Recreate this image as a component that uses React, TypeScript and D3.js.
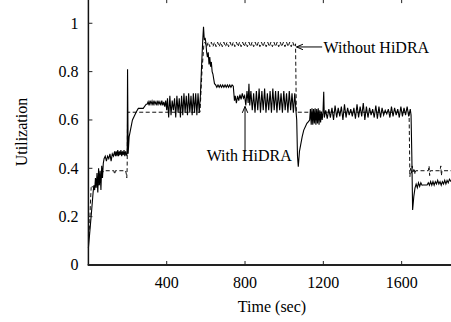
import React, { useEffect, useRef } from 'react';
import * as d3 from 'd3';

// tick values / labels
const xTicks = [400, 800, 1200, 1600];
const yTicks = [0, 0.2, 0.4, 0.6, 0.8, 1];
const yTickLabels = ['0', '0.2', '0.4', '0.6', '0.8', '1'];

// utilization with HiDRA: [time (sec), utilization]
const withHidra: [number, number][] = [
  [0, 0.07], [8, 0.145], [16, 0.22], [24, 0.3], [28, 0.33], [32, 0.31], [36, 0.36], [40, 0.32],
  [44, 0.38], [48, 0.3], [52, 0.4], [56, 0.33], [60, 0.39], [64, 0.31], [68, 0.41], [72, 0.36],
  [76, 0.42], [80, 0.44], [86, 0.45], [92, 0.43], [98, 0.45], [104, 0.44], [110, 0.46], [116, 0.43],
  [122, 0.46], [128, 0.45], [134, 0.47], [138, 0.45], [142, 0.47], [146, 0.45], [150, 0.475],
  [154, 0.45], [158, 0.47], [162, 0.455], [166, 0.475], [170, 0.45], [174, 0.47], [178, 0.455],
  [182, 0.475], [186, 0.45], [190, 0.47], [194, 0.455], [198, 0.46], [200, 0.81], [203, 0.46],
  [208, 0.53], [225, 0.6], [245, 0.634], [255, 0.648], [280, 0.648], [295, 0.665], [300, 0.665],
  [305, 0.675], [310, 0.66], [315, 0.68], [320, 0.665], [325, 0.678], [330, 0.66], [335, 0.68],
  [340, 0.665], [345, 0.675], [350, 0.66], [355, 0.68], [360, 0.665], [365, 0.675], [370, 0.66],
  [375, 0.68], [380, 0.66], [385, 0.675], [390, 0.655], [395, 0.68], [400, 0.64],
  [404, 0.69], [410, 0.61], [416, 0.7], [422, 0.62], [428, 0.68], [434, 0.64], [440, 0.69],
  [446, 0.61], [452, 0.7], [458, 0.63], [464, 0.69], [470, 0.61], [476, 0.7], [482, 0.62],
  [488, 0.71], [494, 0.63], [500, 0.7], [506, 0.62], [512, 0.71], [518, 0.63], [524, 0.7],
  [530, 0.62], [536, 0.71], [542, 0.63], [548, 0.71], [554, 0.62], [560, 0.71], [566, 0.63],
  [572, 0.7], [578, 0.82], [584, 0.93], [588, 0.986], [592, 0.93], [596, 0.94], [600, 0.92],
  [604, 0.88], [608, 0.86], [612, 0.88], [616, 0.83], [620, 0.86], [624, 0.82], [628, 0.84],
  [632, 0.8], [636, 0.79], [640, 0.77], [644, 0.75], [650, 0.745],
  [656, 0.735], [662, 0.745], [668, 0.735], [674, 0.745], [680, 0.735], [686, 0.745], [692, 0.735],
  [698, 0.745], [704, 0.735], [710, 0.745], [716, 0.735], [722, 0.745], [728, 0.735], [734, 0.745],
  [740, 0.74], [746, 0.68], [750, 0.7], [756, 0.67], [762, 0.7], [768, 0.68], [774, 0.705],
  [780, 0.685], [786, 0.71], [792, 0.69], [798, 0.7], [804, 0.66], [810, 0.72], [816, 0.67],
  [820, 0.75], [824, 0.66], [830, 0.72], [837, 0.64], [844, 0.71], [851, 0.63], [858, 0.72],
  [865, 0.64], [872, 0.73], [879, 0.63], [886, 0.72], [893, 0.64], [900, 0.73], [907, 0.63],
  [914, 0.71], [921, 0.64], [928, 0.72], [935, 0.63], [942, 0.73], [949, 0.64], [956, 0.72],
  [963, 0.63], [970, 0.72], [977, 0.64], [984, 0.71], [991, 0.63], [998, 0.72], [1005, 0.64],
  [1012, 0.71], [1019, 0.63], [1026, 0.72], [1033, 0.64], [1040, 0.71], [1047, 0.63], [1054, 0.71],
  [1060, 0.64], [1064, 0.6], [1068, 0.45], [1072, 0.407], [1078, 0.47], [1092, 0.531],
  [1100, 0.558], [1108, 0.572], [1116, 0.586], [1124, 0.593], [1130, 0.6],
  [1134, 0.645], [1138, 0.58], [1142, 0.648], [1146, 0.58], [1150, 0.645], [1154, 0.585],
  [1158, 0.648], [1162, 0.58], [1166, 0.645], [1170, 0.585], [1174, 0.648], [1178, 0.58],
  [1182, 0.64], [1186, 0.59], [1190, 0.635], [1194, 0.6], [1198, 0.63], [1202, 0.717], [1205, 0.61],
  [1212, 0.64], [1220, 0.605], [1228, 0.645], [1236, 0.61], [1244, 0.65], [1252, 0.6], [1260, 0.66],
  [1268, 0.61], [1276, 0.65], [1284, 0.615], [1292, 0.655], [1300, 0.6], [1308, 0.665], [1316, 0.61],
  [1324, 0.65], [1332, 0.62], [1340, 0.645], [1348, 0.615], [1356, 0.65], [1364, 0.605],
  [1372, 0.665], [1380, 0.61], [1388, 0.655], [1396, 0.615], [1404, 0.67], [1412, 0.6],
  [1420, 0.655], [1428, 0.61], [1436, 0.65], [1444, 0.62], [1452, 0.645], [1460, 0.61],
  [1468, 0.66], [1476, 0.605], [1484, 0.655], [1492, 0.61], [1500, 0.65], [1508, 0.62],
  [1516, 0.64], [1524, 0.625], [1532, 0.645], [1540, 0.61], [1548, 0.655], [1556, 0.615],
  [1564, 0.65], [1572, 0.62], [1580, 0.645], [1588, 0.61], [1596, 0.655], [1604, 0.615],
  [1612, 0.65], [1620, 0.62], [1628, 0.655], [1636, 0.615], [1644, 0.645], [1648, 0.62],
  [1652, 0.45], [1656, 0.228], [1662, 0.283], [1668, 0.318], [1674, 0.335], [1680, 0.32],
  [1686, 0.34], [1692, 0.325], [1698, 0.34], [1704, 0.33], [1710, 0.331], [1730, 0.331],
  [1736, 0.34], [1742, 0.33], [1748, 0.345], [1754, 0.33], [1760, 0.345], [1766, 0.33],
  [1772, 0.345], [1778, 0.335], [1784, 0.35], [1790, 0.335], [1796, 0.345], [1802, 0.33],
  [1808, 0.345], [1814, 0.335], [1820, 0.35], [1826, 0.335], [1832, 0.35], [1838, 0.34],
  [1844, 0.355], [1852, 0.345],
];

// utilization without HiDRA
const withoutHidra: [number, number][] = [
  [0, 0.12], [6, 0.15], [10, 0.25], [14, 0.32], [20, 0.33], [30, 0.31], [40, 0.34], [50, 0.33],
  [60, 0.36], [70, 0.38], [80, 0.39], [130, 0.39], [134, 0.375], [138, 0.39], [190, 0.39],
  [194, 0.375], [196, 0.36], [198, 0.4], [200, 0.632], [570, 0.632], [580, 0.8], [590, 0.915],
  [596, 0.922], [604, 0.903], [612, 0.922], [620, 0.903], [628, 0.922], [636, 0.903], [644, 0.922],
  [652, 0.903], [660, 0.922], [668, 0.903], [676, 0.922], [684, 0.903], [692, 0.922], [700, 0.903],
  [708, 0.922], [716, 0.903], [724, 0.922], [732, 0.903], [740, 0.922], [748, 0.903], [756, 0.922],
  [764, 0.903], [772, 0.922], [780, 0.903], [788, 0.922], [796, 0.903], [804, 0.922], [812, 0.903],
  [820, 0.922], [828, 0.903], [836, 0.922], [844, 0.903], [852, 0.922], [860, 0.903], [868, 0.922],
  [876, 0.903], [884, 0.922], [892, 0.903], [900, 0.922], [908, 0.903], [916, 0.922], [924, 0.903],
  [932, 0.922], [940, 0.903], [948, 0.922], [956, 0.903], [964, 0.922], [972, 0.903], [980, 0.922],
  [988, 0.903], [996, 0.922], [1004, 0.903], [1012, 0.922], [1020, 0.903], [1028, 0.922],
  [1036, 0.903], [1044, 0.922], [1052, 0.903], [1058, 0.915], [1062, 0.632], [1638, 0.632],
  [1642, 0.365], [1646, 0.4], [1650, 0.38], [1654, 0.41], [1658, 0.385], [1664, 0.4], [1668, 0.375],
  [1672, 0.39], [1736, 0.39], [1740, 0.41], [1743, 0.37], [1746, 0.39], [1796, 0.39], [1800, 0.41],
  [1803, 0.37], [1806, 0.39], [1852, 0.39],
];

// annotations: label anchor and arrow (from -> to) in data units
const annotations = [
  { text: 'Without HiDRA', t: 1201, v: 0.878, from: [1194, 0.902], to: [1063, 0.902] },
  { text: 'With HiDRA', t: 604, v: 0.43, from: [800, 0.469], to: [800, 0.656] },
];

const width = 451;
const height = 322;
const font = '"Liberation Serif", "Times New Roman", serif';

const UtilChart = () => {
  const svgRef = useRef<SVGSVGElement>(null);

  useEffect(() => {
    const svg = d3.select(svgRef.current);
    svg.selectAll('*').remove();

    const x = d3.scaleLinear().domain([0, 1850]).range([88.4, 450.6]);
    const y = d3.scaleLinear().domain([0, 1.1]).range([265, -0.9]);

    const line = d3.line<[number, number]>()
      .x(d => x(d[0]))
      .y(d => y(d[1]));

    svg.attr('width', width).attr('height', height);

    // dashed series
    svg.append('path')
      .datum(withoutHidra)
      .attr('fill', 'none')
      .attr('stroke', '#111')
      .attr('stroke-width', 1)
      .attr('stroke-dasharray', '4,2.5')
      .attr('d', line);

    // solid series
    svg.append('path')
      .datum(withHidra)
      .attr('fill', 'none')
      .attr('stroke', '#000')
      .attr('stroke-width', 1.1)
      .attr('d', line);

    // axes lines
    svg.append('line')
      .attr('x1', x(0)).attr('x2', x(0))
      .attr('y1', y(0)).attr('y2', y(1.1))
      .attr('stroke', '#111').attr('stroke-width', 1.5);
    svg.append('line')
      .attr('x1', x(0) - 0.75).attr('x2', width)
      .attr('y1', y(0)).attr('y2', y(0))
      .attr('stroke', '#222').attr('stroke-width', 1.8);

    // x ticks (inward, bottom and top)
    const xt = svg.append('g');
    xTicks.forEach(t => {
      xt.append('line').attr('x1', x(t)).attr('x2', x(t))
        .attr('y1', y(0)).attr('y2', y(0) - 4).attr('stroke', '#222');
      xt.append('line').attr('x1', x(t)).attr('x2', x(t))
        .attr('y1', y(1.1)).attr('y2', y(1.1) + 4).attr('stroke', '#222');
      xt.append('text').attr('x', x(t)).attr('y', 288)
        .attr('text-anchor', 'middle')
        .attr('font-family', font).attr('font-size', 16)
        .text(String(t));
    });

    // y ticks
    const yt = svg.append('g');
    yTicks.forEach((v, i) => {
      yt.append('line').attr('x1', x(0)).attr('x2', x(0) + 4)
        .attr('y1', y(v)).attr('y2', y(v)).attr('stroke', '#222');
      yt.append('text').attr('x', 78.5).attr('y', y(v))
        .attr('dy', '0.34em')
        .attr('text-anchor', 'end')
        .attr('font-family', font).attr('font-size', 16)
        .text(yTickLabels[i]);
    });

    // axis titles
    svg.append('text')
      .attr('x', 272).attr('y', 311.5)
      .attr('text-anchor', 'middle')
      .attr('font-family', font).attr('font-size', 16)
      .text('Time (sec)');
    svg.append('text')
      .attr('transform', 'translate(27,132) rotate(-90)')
      .attr('text-anchor', 'middle')
      .attr('font-family', font).attr('font-size', 16)
      .text('Utilization');

    // annotations with arrows
    annotations.forEach(a => {
      svg.append('text')
        .attr('x', x(a.t)).attr('y', y(a.v))
        .attr('font-family', font).attr('font-size', 16)
        .text(a.text);
      const x1 = x(a.from[0]), y1 = y(a.from[1]);
      const x2 = x(a.to[0]), y2 = y(a.to[1]);
      svg.append('line')
        .attr('x1', x1).attr('y1', y1).attr('x2', x2).attr('y2', y2)
        .attr('stroke', '#000').attr('stroke-width', 1);
      const ang = Math.atan2(y1 - y2, x1 - x2);
      const hl = 7, hw = 0.4;
      const head = [
        [x2 + hl * Math.cos(ang + hw), y2 + hl * Math.sin(ang + hw)],
        [x2, y2],
        [x2 + hl * Math.cos(ang - hw), y2 + hl * Math.sin(ang - hw)],
      ];
      svg.append('path')
        .attr('d', d3.line()(head as [number, number][]))
        .attr('fill', 'none').attr('stroke', '#000').attr('stroke-width', 1);
    });
  }, []);

  return <svg ref={svgRef} style={{ position: 'absolute', left: 0, top: 0 }} />;
};

export default function App() {
  return <UtilChart />;
}
